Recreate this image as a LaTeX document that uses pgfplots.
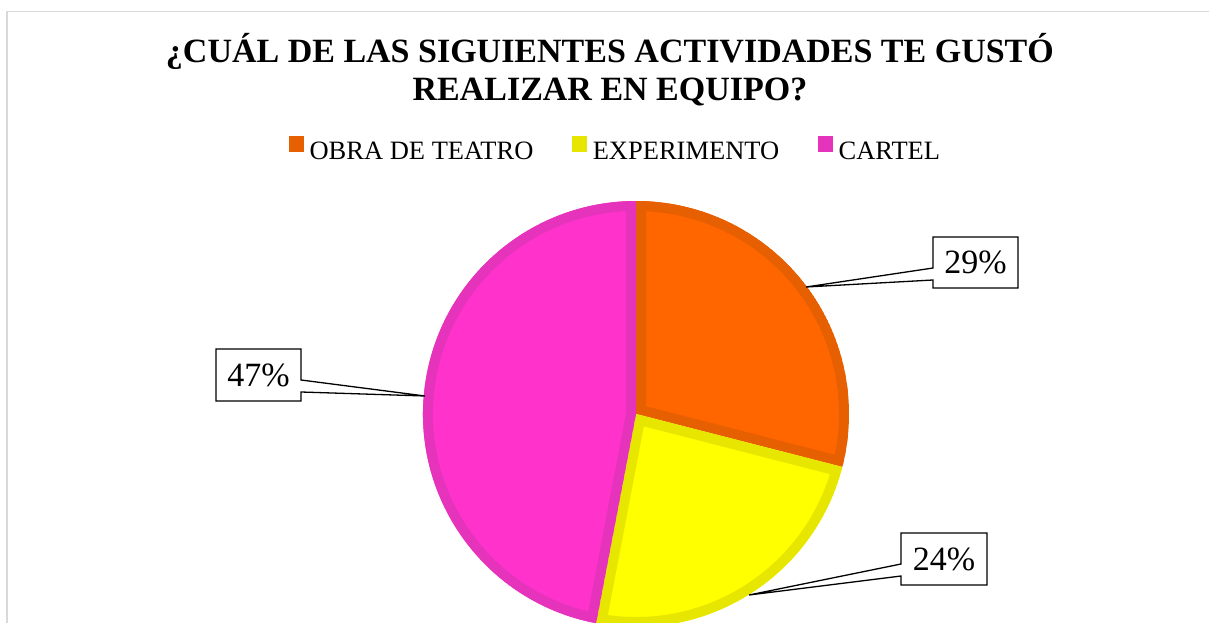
\documentclass[border=0pt]{standalone}
\usepackage{pgfplots}
\pgfplotsset{compat=1.18}
\usepackage{fontspec}
\setmainfont{Liberation Serif}

\definecolor{orfill}{HTML}{FF6600}
\definecolor{orline}{HTML}{E65F00}
\definecolor{yefill}{HTML}{FFFF00}
\definecolor{yeline}{HTML}{E6E600}
\definecolor{pkfill}{HTML}{FF33CC}
\definecolor{pkline}{HTML}{E633BB}
\definecolor{chartframe}{HTML}{D9D9D9}

% shares in percent
\def\vObra{29}
\def\vExp{24}
\def\vCartel{47}
\pgfmathsetmacro\aA{90-3.6*\vObra}
\pgfmathsetmacro\aB{\aA-3.6*\vExp}
\pgfmathsetmacro\aC{\aB-3.6*\vCartel}

% slice with an inner border: start, end, fill, border
\newcommand{\slice}[4]{%
  \begin{scope}
    \clip (axis cs:636,208) -- ++(#1:213pt) arc[start angle=#1, end angle=#2, radius=213pt] -- cycle;
    \fill[#3, draw=#4, line width=20pt] (axis cs:636,208) -- ++(#1:213pt) arc[start angle=#1, end angle=#2, radius=213pt] -- cycle;
  \end{scope}}

\begin{document}
\begin{tikzpicture}
\begin{axis}[
    name=ax, at={(0,0)}, anchor=south west,
    x=1pt, y=1pt, xmin=0, xmax=1209, ymin=0, ymax=622,
    hide axis, clip=false,
    legend columns=3,
    legend style={draw=none, fill=none, inner sep=0pt,
        at={(axis cs:289,473.5)}, anchor=west,
        nodes={inner sep=0pt, font=\fontsize{26.5}{30}\selectfont},
        /tikz/every odd column/.append style={column sep=6pt},
        /tikz/every even column/.append style={column sep=39pt}},
    legend image code/.code={\fill[#1] (0pt,1pt) rectangle (14pt,16pt);},
]
\draw[chartframe, line width=1.3pt] (axis cs:7,-10) -- (axis cs:7,610.5) -- (axis cs:1230,610.5);

\slice{90}{\aA}{orfill}{orline}
\slice{\aA}{\aB}{yefill}{yeline}
\slice{\aB}{\aC}{pkfill}{pkline}

\addlegendimage{orline}\addlegendentry{OBRA DE TEATRO}
\addlegendimage{yeline}\addlegendentry{EXPERIMENTO}
\addlegendimage{pkline}\addlegendentry{CARTEL}

\node[anchor=base, font=\fontsize{34}{38}\selectfont\bfseries] at (axis cs:610,559) {¿CUÁL DE LAS SIGUIENTES ACTIVIDADES TE GUSTÓ};
\node[anchor=base, font=\fontsize{34}{38}\selectfont\bfseries] at (axis cs:610,521) {REALIZAR EN EQUIPO?};

% data label callouts
\filldraw[fill=white, draw=black, line width=1.3pt, line join=miter]
  (axis cs:933,385) -- (axis cs:1018,385) -- (axis cs:1018,334) -- (axis cs:933,334)
  -- (axis cs:933,342) -- (axis cs:806,335) -- (axis cs:933,354) -- cycle;
\node[font=\fontsize{34}{38}\selectfont] at (axis cs:975.5,359.5) {\vObra\%};

\filldraw[fill=white, draw=black, line width=1.3pt, line join=miter]
  (axis cs:901,89) -- (axis cs:987,89) -- (axis cs:987,37) -- (axis cs:901,37)
  -- (axis cs:901,46) -- (axis cs:749,27) -- (axis cs:901,58) -- cycle;
\node[font=\fontsize{34}{38}\selectfont] at (axis cs:944,63) {\vExp\%};

\filldraw[fill=white, draw=black, line width=1.3pt, line join=miter]
  (axis cs:216,273) -- (axis cs:301,273) -- (axis cs:301,242) -- (axis cs:425,226)
  -- (axis cs:301,230) -- (axis cs:301,221) -- (axis cs:216,221) -- cycle;
\node[font=\fontsize{34}{38}\selectfont] at (axis cs:258.5,247) {\vCartel\%};
\end{axis}
\pgfresetboundingbox
\path (ax.south west) rectangle (ax.north east);
\end{tikzpicture}
\end{document}
